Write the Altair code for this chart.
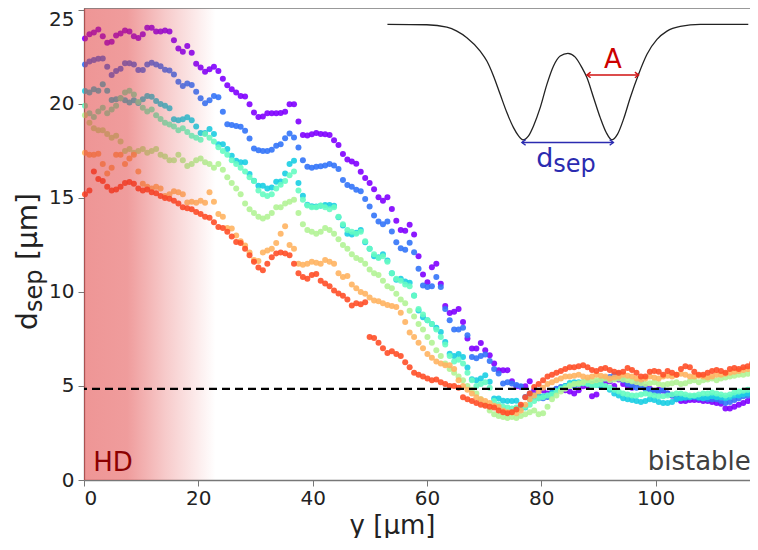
import altair as alt
import pandas as pd

# ---------------- data ----------------
X0 = 0.17      # first sample position (µm)
DX = 0.778     # sampling step (µm)

purple = [23.48, 23.7, 23.8, 23.96, 23.6, 23.25, 23.3, 23.64, 23.75, 23.9,
          23.85, 23.6, 23.5, 23.7, 24.05, 24.05, 23.85, 23.85, 23.9, 23.85,
          23.38, 22.94, 22.78, 23.08, 22.72, 22.14, 21.93, 21.71, 21.84, 21.98,
          21.75, 21.34, 20.99, 20.78, 20.6, 20.42, 20.4, 19.98, 19.54, 19.31,
          19.33, 19.5, 19.5, 19.5, 19.52, 19.58, 19.98, 19.98, 19.06, 18.34,
          18.32, 18.39, 18.45, 18.4, 18.38, 18.34, 18.07, 17.82, 17.33, 17.05,
          16.94, 16.82, 16.39, 16.06, 15.79, 15.46, 15.03, 14.85, 15.03, 14.41,
          13.79, 13.3, 13.26, 13.58, 13.05, 11.9, 10.93, 10.52, 11.32, 11.5,
          10.43, 9.25, 8.88, 8.95, 9.1, 8.4, 7.52, 6.99, 6.99, 7.29,
          6.9, 6.63, 6.19, 5.84, 5.84, 5.84, 5.25, 4.99, 4.95, 4.99,
          5.25, 4.77, 4.42, 4.77, 4.6, 4.65, 4.84, 4.85, 4.77, 4.7,
          4.6, 4.77, 4.99, 5.0, 4.45, 4.55, 5.0, 5.1, 5.25, 5.0,
          5.35, 5.1, 5.0, 4.9, 5.13, 5.2, 4.95, 4.85, 4.7, 4.8,
          4.75, 4.6, 4.5, 4.3, 4.2, 4.2, 4.25, 4.25, 4.25, 4.2,
          4.2, 4.15, 4.1, 4.05, 3.8, 3.8, 3.9, 4.0, 4.1, 4.2,
          4.3, 4.4]

blue = [22.1, 22.25, 22.34, 22.4, 22.42, 21.98, 21.54, 21.75, 21.87, 22.16,
        22.16, 22.1, 21.8, 21.8, 22.1, 22.19, 22.1, 22.0, 21.82, 21.77,
        21.57, 21.18, 20.95, 21.08, 21.0, 20.64, 20.3, 20.04, 20.2, 20.42,
        20.35, 19.58, 18.92, 18.88, 18.83, 18.78, 18.57, 18.16, 17.63, 17.54,
        17.5, 17.5, 17.56, 17.77, 17.86, 18.18, 18.42, 18.22, 17.68, 17.0,
        16.66, 16.6, 16.66, 16.68, 16.72, 16.8, 16.72, 16.54, 15.95, 15.69,
        15.6, 15.44, 15.35, 14.94, 14.55, 14.06, 13.74, 13.6, 13.75, 13.21,
        12.64, 12.32, 12.24, 12.61, 12.11, 11.23, 10.34, 10.26, 10.3, 10.79,
        10.26, 9.1, 8.49, 8.0, 8.0, 8.1, 7.7, 6.54, 6.48, 6.6,
        6.68, 6.33, 5.9, 5.67, 5.13, 5.2, 5.13, 5.05, 4.99, 4.42,
        4.6, 4.42, 4.35, 4.35, 4.42, 4.6, 4.85, 4.95, 5.0, 5.05,
        5.0, 5.1, 5.15, 5.2, 5.1, 5.2, 5.3, 5.4, 5.48, 5.6,
        5.66, 5.3, 5.1, 5.0, 4.9, 4.95, 4.85, 4.8, 4.7, 4.7,
        4.8, 4.6, 4.5, 4.4, 4.38, 4.35, 4.4, 4.4, 4.35, 4.35,
        4.3, 4.3, 4.3, 4.2, 4.1, 4.15, 4.25, 4.35, 4.45, 4.5,
        4.6, 4.65]

cyan = [20.69, 20.6, 20.78, 20.7, 21.04, 20.7, 20.21, 20.25, 20.3, 20.2,
        20.07, 20.2, 20.05, 20.25, 20.42, 20.38, 20.15, 20.0, 19.9, 19.77,
        19.19, 19.13, 19.19, 19.29, 19.13, 18.8, 18.45, 18.45, 18.66, 18.4,
        17.86, 17.86, 17.6, 17.24, 16.98, 16.9, 16.9, 16.27, 15.92, 15.65,
        15.65, 15.5, 15.55, 15.86, 15.88, 16.3, 16.8, 16.98, 15.79, 15.12,
        14.64, 14.56, 14.55, 14.58, 14.62, 14.62, 14.59, 13.97, 13.53, 13.09,
        13.05, 13.15, 13.3, 12.64, 12.3, 11.9, 11.85, 12.0, 11.67, 11.0,
        10.65, 10.7, 10.55, 10.49, 9.81, 9.02, 8.66, 8.5, 8.3, 8.1,
        7.87, 7.34, 6.72, 6.6, 6.7, 6.54, 5.98, 5.36, 5.3, 5.4,
        5.57, 5.22, 4.33, 4.33, 4.21, 4.2, 4.2, 4.21, 3.89, 3.85,
        4.3, 4.5, 4.45, 4.45, 4.5, 4.63, 4.75, 4.86, 5.0, 5.16,
        5.2, 5.2, 5.2, 5.15, 5.1, 5.05, 5.0, 4.95, 4.8, 4.6,
        4.5, 4.35, 4.3, 4.25, 4.2, 4.15, 4.2, 4.3, 4.25, 4.15,
        4.1, 4.1, 4.15, 4.3, 4.35, 4.4, 4.4, 4.45, 4.4, 4.35,
        4.4, 4.45, 4.4, 4.4, 4.35, 4.4, 4.5, 4.5, 4.55, 4.6,
        4.65, 4.7]

turquoise = [19.9, 19.5, 19.3, 19.6, 19.8, 19.5, 19.7, 19.9, 20.3, 20.6,
             20.7, 20.5, 20.1, 19.8, 19.6, 19.7, 19.4, 19.2, 19.0, 18.9,
             18.8, 18.6, 18.7, 18.5, 18.3, 18.2, 18.1, 18.4, 18.2, 18.0,
             17.7, 17.5, 17.3, 17.0, 16.8, 16.6, 16.4, 16.1, 15.9, 15.4,
             15.2, 15.1, 15.2, 15.5, 15.7, 15.9, 16.2, 16.4, 15.4, 14.9,
             14.6, 14.5, 14.5, 14.6, 14.5, 14.4, 14.5, 14.0, 13.6, 13.3,
             13.2, 13.1, 13.2, 12.7, 12.3, 12.0, 11.8, 11.9, 11.6, 11.0,
             10.7, 10.6, 10.4, 10.3, 9.8, 9.1, 8.8, 8.5, 8.3, 8.0,
             7.6, 7.2, 6.6, 6.3, 6.4, 6.2, 5.7, 5.3, 5.0, 5.1,
             5.2, 4.9, 4.2, 4.0, 3.9, 3.85, 3.8, 3.85, 3.8, 3.9,
             4.0, 4.2, 4.35, 4.4, 4.5, 4.55, 4.7, 4.85, 4.95, 5.05,
             5.1, 5.1, 5.15, 5.1, 5.0, 5.05, 5.1, 5.0, 4.9, 4.8,
             4.7, 4.6, 4.55, 4.5, 4.5, 4.55, 4.6, 4.55, 4.5, 4.45,
             4.45, 4.5, 4.55, 4.6, 4.6, 4.55, 4.5, 4.5, 4.55, 4.6,
             4.6, 4.65, 4.6, 4.55, 4.5, 4.55, 4.65, 4.7, 4.75, 4.8,
             4.85, 4.9]

lightgreen = [19.4, 19.0, 18.7, 18.6, 18.6, 18.4, 18.2, 18.3, 18.0, 17.5,
              17.6, 17.4, 17.5, 17.6, 17.4, 17.5, 17.6, 17.3, 17.2, 17.0,
              17.0, 17.3, 17.0, 16.7, 16.8, 17.0, 17.1, 16.9, 16.8, 16.6,
              16.8, 16.5, 16.1, 15.8, 15.5, 15.2, 14.7, 14.4, 14.2, 14.0,
              13.9, 14.0, 14.2, 14.5, 14.5, 14.7, 14.8, 14.9, 14.2, 13.6,
              13.3, 13.2, 13.1, 13.2, 13.4, 13.3, 13.1, 12.8, 12.5, 12.3,
              12.0, 11.8, 11.7, 11.5, 11.2, 11.0, 10.9, 10.6, 10.3, 10.2,
              9.9, 9.6, 9.4, 9.0, 8.7, 8.3, 8.0, 7.6, 7.3, 6.9,
              6.6, 6.2, 5.9, 5.7, 5.5, 5.3, 5.0, 4.8, 4.6, 4.3,
              4.0, 3.7, 3.5, 3.4, 3.35, 3.3, 3.35, 3.3, 3.4, 3.5,
              3.6, 3.7, 3.5, 3.55, 3.9, 4.3, 4.5, 4.7, 4.85, 5.0,
              5.1, 5.15, 5.2, 5.3, 5.25, 5.3, 5.35, 5.4, 5.3, 5.35,
              5.4, 5.35, 5.3, 5.25, 5.2, 5.15, 5.1, 5.15, 5.2, 5.1,
              5.05, 5.1, 5.15, 5.2, 5.1, 5.15, 5.25, 5.3, 5.2, 5.3,
              5.35, 5.4, 5.3, 5.4, 5.45, 5.5, 5.55, 5.6, 5.6, 5.65,
              5.7, 5.75]

orange = [17.4, 17.3, 17.3, 17.35, 16.8, 16.3, 16.6, 17.3, 17.3, 16.8,
          17.1, 17.3, 16.4, 15.75, 15.6, 15.5, 15.6, 15.5, 15.1, 15.2,
          15.35, 15.3, 15.2, 14.76, 14.8, 14.75, 14.85, 14.75, 15.3, 14.8,
          14.15, 14.0, 13.4, 13.37, 13.0, 12.7, 12.47, 12.1, 11.7, 11.65,
          12.1, 12.2, 12.3, 12.6, 13.1, 13.5, 12.5, 12.3, 11.5, 11.45,
          11.5, 11.6, 11.55, 11.5, 11.7, 11.6, 11.5, 11.0, 10.8, 10.85,
          10.4, 10.2, 10.0, 9.9, 9.7, 9.55, 9.5, 9.4, 9.3, 9.25,
          9.2, 8.9, 8.4, 7.85, 7.6, 7.3, 7.0, 6.7, 6.5, 6.3,
          6.2, 6.1, 6.1, 5.9, 5.3, 5.0, 4.8, 4.6, 4.4, 4.3,
          4.2, 4.1, 3.95, 3.9, 3.7, 3.6, 3.6, 3.55, 3.7, 4.0,
          4.3, 4.5, 4.7, 4.9, 5.1, 5.2, 5.3, 5.4, 5.5, 5.5,
          5.55, 5.6, 5.5, 5.45, 5.5, 5.6, 5.55, 5.5, 5.4, 5.45,
          5.5, 5.6, 5.55, 5.5, 5.4, 5.35, 5.4, 5.5, 5.45, 5.4,
          5.5, 5.55, 5.5, 5.6, 5.65, 5.6, 5.5, 5.5, 5.55, 5.5,
          5.45, 5.5, 5.6, 5.6, 5.65, 5.7, 5.75, 5.8, 5.85, 5.9,
          6.0, 6.05]

red = [15.2, 15.4, 16.4, 16.0, 15.9, 15.6, 15.4, 15.45, 15.6, 15.8,
       15.85, 15.75, 15.5, 15.4, 15.45, 15.3, 15.25, 15.1, 15.0, 14.95,
       14.85, 14.7, 14.5, 14.45, 14.4, 14.25, 14.15, 14.0, 13.95, 13.7,
       13.45, 13.4, 13.2, 12.95, 12.65, 12.6, 12.3, 11.95, 11.6, 11.3,
       11.15, 11.5, 11.85, 12.05, 12.1, 12.05, 11.95, 11.5, 11.0, 10.8,
       10.7, 10.9, 10.95, 10.6, 10.45, 10.3, 10.08, 9.92, 9.8, 9.6,
       9.28, 9.4, 9.35, 9.45, 7.6, 7.55, 7.3, 7.0, 6.75, 6.85,
       6.7, 6.6, 6.26, 6.0, 5.7, 5.6, 5.5, 5.4, 5.3, 5.35,
       5.2, 5.1, 5.0, 5.0, 4.9, 4.4, 4.3, 4.2, 4.1, 4.0,
       3.95, 3.9, 3.85, 3.7, 3.6, 3.55, 3.6, 3.75, 4.0, 4.4,
       4.6, 4.95, 5.1, 5.3, 5.5, 5.6, 5.7, 5.8, 5.9, 6.0,
       6.0, 6.05, 6.1, 6.0, 5.85, 5.8, 5.9, 5.95, 5.85, 5.75,
       5.7, 5.75, 5.95, 5.85, 5.7, 5.5, 5.5, 5.75, 5.8, 5.75,
       5.6, 5.8, 5.7, 5.6, 5.9, 6.05, 6.0, 5.75, 5.6, 5.6,
       5.7, 5.8, 5.85, 5.8, 5.7, 5.9, 5.95, 5.9, 6.0, 6.05,
       6.2, 6.3]

series_names = ["s1", "s2", "s3", "s4", "s5", "s6", "s7"]
series_values = [purple, blue, cyan, turquoise, lightgreen, orange, red]
series_colors = ["#8000ff", "#3374f8", "#1acee3", "#66fcc2", "#b3f396", "#ffb462", "#ff4f28"]

# inset schematic (double-well profile)
inset_x = [53.08, 59.97, 63.47, 65.22, 66.97, 69.30, 70.47, 71.63, 72.80, 73.97,
           75.13, 76.01, 76.77, 77.76, 78.63, 79.80, 80.97, 82.13, 83.30, 84.65,
           85.93, 87.10, 87.97, 89.14, 90.30, 91.35, 92.35, 93.33, 94.38, 95.55,
           97.01, 98.48, 100.23, 101.98, 104.30, 107.80, 116.20]
inset_y = [24.23, 24.21, 24.08, 23.87, 23.52, 22.81, 22.28, 21.49, 20.51, 19.54,
           18.74, 18.30, 18.09, 18.30, 18.83, 19.80, 21.04, 22.02, 22.55, 22.69,
           22.49, 21.93, 21.40, 20.33, 19.27, 18.48, 18.09, 18.39, 19.19, 20.33,
           21.58, 22.64, 23.43, 23.87, 24.12, 24.23, 24.23]

arrow_A = {"x1": 87.97, "x2": 97.01, "y": 21.54}
arrow_d = {"x1": 76.6, "x2": 92.6, "y": 17.95}
dashed_level = 4.85
hd_zone_end = 23.0

x_ticks = [0, 20, 40, 60, 80, 100]
y_ticks = [0, 5, 10, 15, 20, 25]

# ---------------- build tables ----------------
rows = []
for name, vals in zip(series_names, series_values):
    for i, v in enumerate(vals):
        rows.append({"x": round(X0 + DX * i, 3), "y": v, "s": name})
df = pd.DataFrame(rows)

XS = alt.Scale(domain=[0, 116.5], nice=False, zero=False)
YS = alt.Scale(domain=[0, 25.1], nice=False, zero=False)
FONT = "DejaVu Sans"

XAX = alt.Axis(values=x_ticks, title="y [µm]", labelPadding=2,
               titleX=308, titleY=53, titleAlign="center", titleBaseline="alphabetic")
YAX = alt.Axis(values=y_ticks, title="", labelPadding=4,
               labelBaseline=alt.condition("datum.value == 25",
                                           alt.value("top"), alt.value("middle")))


def xq(field="x"):
    return alt.X(f"{field}:Q", scale=XS, axis=XAX)


def yq(field="y"):
    return alt.Y(f"{field}:Q", scale=YS, axis=YAX)


points = alt.Chart(df).mark_circle(size=36, opacity=0.9).encode(
    x=xq(), y=yq(),
    color=alt.Color("s:N", scale=alt.Scale(domain=series_names, range=series_colors),
                    legend=None),
)

band_grad = alt.LinearGradient(
    gradient="linear", x1=0, x2=1, y1=0, y2=0,
    stops=[alt.GradientStop(color="rgba(222,45,45,0.50)", offset=0),
           alt.GradientStop(color="rgba(222,45,45,0.47)", offset=0.33),
           alt.GradientStop(color="rgba(222,45,45,0.25)", offset=0.62),
           alt.GradientStop(color="rgba(222,45,45,0.0)", offset=1)])
band = alt.Chart(pd.DataFrame({"x": [0], "x2": [hd_zone_end], "y": [0], "y2": [25.1]})
                 ).mark_rect(fill=band_grad).encode(
    x=xq(), x2="x2:Q", y=yq(), y2="y2:Q")

dashed = alt.Chart(pd.DataFrame({"y": [dashed_level]})).mark_rule(
    color="black", strokeDash=[8, 5], strokeWidth=2.2).encode(y=yq())

top_border = alt.Chart(pd.DataFrame({"y": [25.1]})).mark_rule(
    color="#777", strokeWidth=1.6).encode(y=yq())

inset_line = alt.Chart(pd.DataFrame({"x": inset_x, "y": inset_y})).mark_line(
    color="#222", strokeWidth=1.3, interpolate="monotone").encode(x=xq(), y=yq())


def arrow(a, color):
    seg = alt.Chart(pd.DataFrame({"x": [a["x1"]], "x2": [a["x2"]], "y": [a["y"]]})).mark_rule(
        color=color, strokeWidth=1.4).encode(x=xq(), x2="x2:Q", y=yq())
    left = alt.Chart(pd.DataFrame({"x": [a["x1"]], "y": [a["y"]]})).mark_point(
        shape="M1,-0.75L0,0L1,0.75", size=55, filled=False, color=color,
        strokeWidth=1.4, opacity=1).encode(x=xq(), y=yq())
    right = alt.Chart(pd.DataFrame({"x": [a["x2"]], "y": [a["y"]]})).mark_point(
        shape="M-1,-0.75L0,0L-1,0.75", size=55, filled=False, color=color,
        strokeWidth=1.4, opacity=1).encode(x=xq(), y=yq())
    return [seg, left, right]


def label(x, y, text, size, color, align="left"):
    return alt.Chart(pd.DataFrame({"x": [x], "y": [y], "t": [text]})).mark_text(
        font=FONT, fontSize=size, color=color, align=align, baseline="alphabetic").encode(
        x=xq(), y=yq(), text="t:N")


txt_A = label(92.5, 21.93, "A", 26, "#cc0000", align="center")
txt_d = label(79.1, 16.62, "d", 27, "#2b2bb0")
txt_sep = label(82.1, 16.36, "sep", 24, "#2b2bb0")
txt_HD = label(1.6, 0.49, "HD", 26, "#8b0000")
txt_bi = label(98.6, 0.53, "bistable", 26, "#404040")


def ytitle(px, py, text, size):
    return alt.Chart(pd.DataFrame({"t": [text]})).mark_text(
        font=FONT, fontSize=size, color="#222", angle=270, align="left",
        baseline="alphabetic").encode(x=alt.value(px), y=alt.value(py), text="t:N")


yt_d = ytitle(-47, 322, "d", 28)
yt_sep = ytitle(-42, 304, "sep", 24)
yt_unit = ytitle(-47, 252, "[µm]", 28)

layers = [points, band, dashed, top_border, inset_line] + arrow(arrow_A, "#d01010") + \
    arrow(arrow_d, "#2b2bb0") + [txt_A, txt_d, txt_sep, txt_HD, txt_bi, yt_d, yt_sep, yt_unit]

chart = alt.layer(*layers).properties(
    width=666, height=472,
    autosize=alt.AutoSizeParams(type="none"),
    padding={"left": 76, "top": 0, "right": 0, "bottom": 58},
).configure_view(stroke=None).configure_axis(
    labelFont=FONT, titleFont=FONT, labelFontSize=20, titleFontSize=26,
    titleFontWeight="normal", labelColor="#222", titleColor="#222",
    domainColor="#777", tickColor="#777", tickSize=6, grid=False, domainWidth=1.3,
)

chart.save("out.html", embed_options={"renderer": "svg", "actions": False})
